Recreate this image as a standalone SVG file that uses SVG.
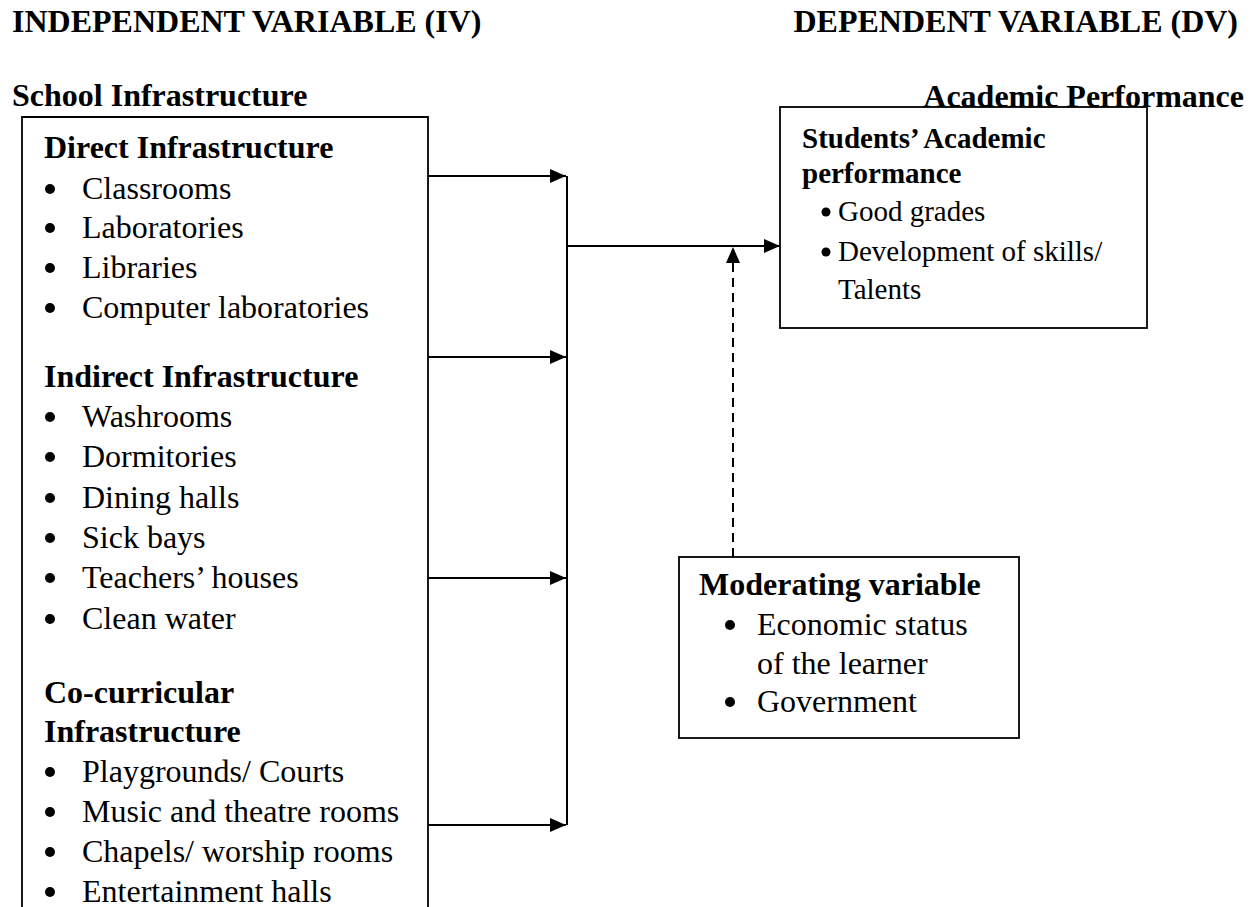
<svg xmlns="http://www.w3.org/2000/svg" width="1254" height="907" viewBox="0 0 1254 907">
<style>
text{font-family:"Liberation Serif","Times New Roman",serif;fill:#000}
.h{font-size:32px;font-weight:bold}
.t{font-size:32px}
.b{font-size:32px;font-weight:bold}
.s{font-size:29px}
.sb{font-size:29px;font-weight:bold}
.box{fill:none;stroke:#000;stroke-width:1.8}
.ln{fill:none;stroke:#000;stroke-width:2}
.dash{fill:none;stroke:#000;stroke-width:2;stroke-dasharray:9,6}
</style>
<defs>
<marker id="ah" markerUnits="userSpaceOnUse" markerWidth="18" markerHeight="16" refX="16" refY="7" orient="auto">
<path d="M0,0 L16,7 L0,14 z" fill="#000"/>
</marker>
</defs>
<g id="headers">
<text class="h" x="12" y="32">INDEPENDENT VARIABLE (IV)</text>
<text class="h" x="1238" y="32" text-anchor="end">DEPENDENT VARIABLE (DV)</text>
<text class="h" x="12" y="106">School Infrastructure</text>
<text class="h" x="1244" y="107" text-anchor="end">Academic Performance</text>
</g>
<g id="iv-box">
<path class="box" d="M22,910 V117 H428 V910"/>
<text class="b" x="44" y="158">Direct Infrastructure</text>
<g>
<circle cx="50" cy="189" r="5"/><text class="t" x="82" y="199">Classrooms</text>
<circle cx="50" cy="228" r="5"/><text class="t" x="82" y="238">Laboratories</text>
<circle cx="50" cy="268" r="5"/><text class="t" x="82" y="278">Libraries</text>
<circle cx="50" cy="308" r="5"/><text class="t" x="82" y="318">Computer laboratories</text>
</g>
<text class="b" x="44" y="387">Indirect Infrastructure</text>
<g>
<circle cx="50" cy="417" r="5"/><text class="t" x="82" y="427">Washrooms</text>
<circle cx="50" cy="457" r="5"/><text class="t" x="82" y="467">Dormitories</text>
<circle cx="50" cy="498" r="5"/><text class="t" x="82" y="508">Dining halls</text>
<circle cx="50" cy="538" r="5"/><text class="t" x="82" y="548">Sick bays</text>
<circle cx="50" cy="578" r="5"/><text class="t" x="82" y="588">Teachers’ houses</text>
<circle cx="50" cy="619" r="5"/><text class="t" x="82" y="629">Clean water</text>
</g>
<text class="b" x="44" y="703">Co-curricular</text>
<text class="b" x="44" y="742">Infrastructure</text>
<g>
<circle cx="50" cy="772" r="5"/><text class="t" x="82" y="782">Playgrounds/ Courts</text>
<circle cx="50" cy="812" r="5"/><text class="t" x="82" y="822">Music and theatre rooms</text>
<circle cx="50" cy="852" r="5"/><text class="t" x="82" y="862">Chapels/ worship rooms</text>
<circle cx="50" cy="892" r="5"/><text class="t" x="82" y="902">Entertainment halls</text>
</g>
</g>
<g id="dv-box">
<rect class="box" x="780" y="107" width="367" height="221"/>
<text class="sb" x="802" y="148">Students’ Academic</text>
<text class="sb" x="802" y="183">performance</text>
<circle cx="826" cy="212" r="4.5"/><text class="s" x="838" y="221">Good grades</text>
<circle cx="826" cy="252" r="4.5"/><text class="s" x="838" y="261">Development of skills/</text>
<text class="s" x="838" y="299">Talents</text>
</g>
<g id="moderating-box">
<rect class="box" x="679" y="557" width="340" height="181"/>
<text class="b" x="699" y="595">Moderating variable</text>
<circle cx="730" cy="625" r="5"/><text class="t" x="757" y="635">Economic status</text>
<text class="t" x="757" y="674">of the learner</text>
<circle cx="730" cy="702" r="5"/><text class="t" x="757" y="712">Government</text>
</g>
<g id="connectors">
<line class="ln" x1="428" y1="176" x2="566" y2="176" marker-end="url(#ah)"/>
<line class="ln" x1="428" y1="357" x2="566" y2="357" marker-end="url(#ah)"/>
<line class="ln" x1="428" y1="578" x2="566" y2="578" marker-end="url(#ah)"/>
<line class="ln" x1="428" y1="825" x2="566" y2="825" marker-end="url(#ah)"/>
<line class="ln" x1="567" y1="176" x2="567" y2="825"/>
<line class="ln" x1="567" y1="246" x2="780" y2="246" marker-end="url(#ah)"/>
<line class="dash" x1="733" y1="557" x2="733" y2="262"/>
<path d="M733,247 L740,263 L726,263 z" fill="#000"/>
</g>
</svg>
